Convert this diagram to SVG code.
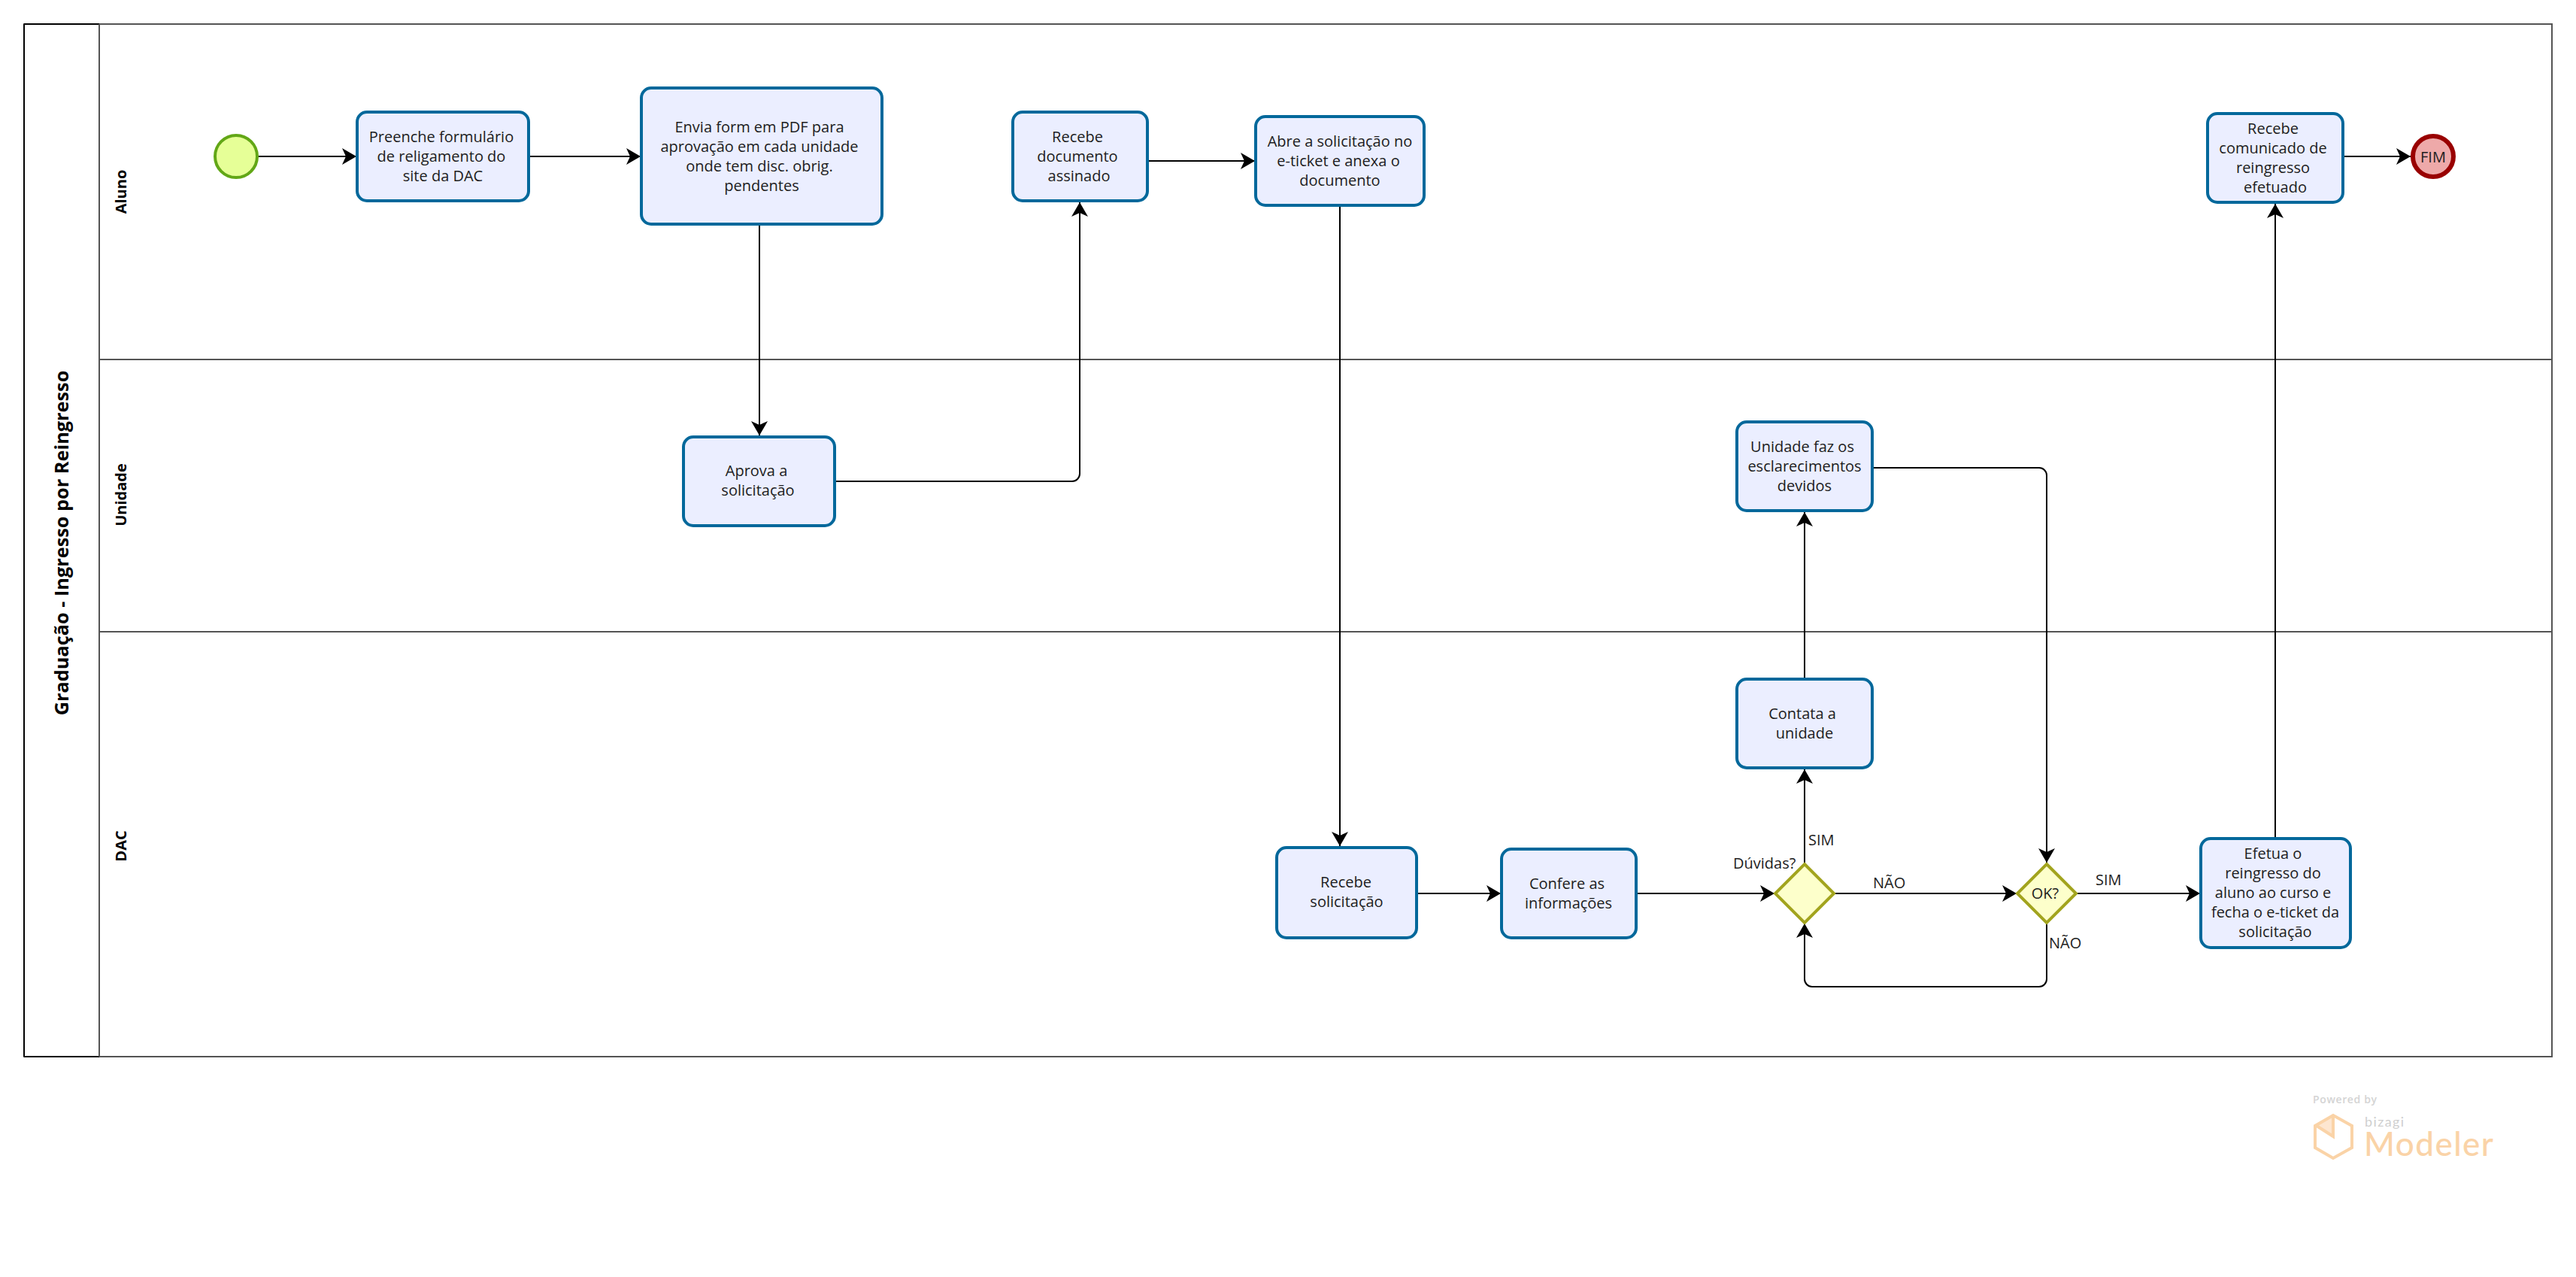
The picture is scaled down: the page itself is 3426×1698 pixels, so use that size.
<svg xmlns="http://www.w3.org/2000/svg" width="3426" height="1698" viewBox="0 0 3426 1698">
<style>
text{font-family:"Open Sans","Noto Sans","Liberation Sans",sans-serif;fill:#1d1d1d}
.t{font-size:20px;text-anchor:middle}
.l{font-size:20px}
.lane{fill:none;stroke:#545454;stroke-width:2}
.task{fill:#ebeeff;stroke:#03689b;stroke-width:4}
.gw{fill:#fdffcb;stroke:#a2a41e;stroke-width:4}
.c{fill:none;stroke:#000;stroke-width:2;marker-end:url(#a)}
.h{font-weight:700;fill:#000;text-anchor:middle}
</style>
<defs><marker id="a" markerUnits="userSpaceOnUse" markerWidth="19" markerHeight="22" viewBox="0 0 19 22" refX="19" refY="11" orient="auto"><path d="M0,0 L19,11 L0,22 L5,11 Z" fill="#000"/></marker></defs>
<rect width="3426" height="1698" fill="#fff"/>
<g id="pool">
<rect x="32" y="32" width="3362" height="1373" class="lane"/>
<path d="M32,32H132M32,32V1405M32,1405H132" fill="none" stroke="#000" stroke-width="2"/>
<path d="M132,32V1405M132,478H3394M132,840H3394" class="lane"/>
<text class="h" font-size="25.3" transform="translate(91,722) rotate(-90)">Graduação - Ingresso por Reingresso</text>
<text class="h" font-size="20" transform="translate(168,255) rotate(-90)">Aluno</text>
<text class="h" font-size="20" transform="translate(168,658) rotate(-90)">Unidade</text>
<text class="h" font-size="20" transform="translate(168,1125) rotate(-90)">DAC</text>
</g>
<g id="connectors">
<path class="c" d="M343,208H474"/>
<path class="c" d="M704,208H852"/>
<path class="c" d="M1010,300V579"/>
<path class="c" d="M1111,640H1426A10,10 0 0 0 1436,630V269"/>
<path class="c" d="M1527,214H1669"/>
<path class="c" d="M1782,275V1125"/>
<path class="c" d="M1885,1188H1996"/>
<path class="c" d="M2177,1188H2360"/>
<path class="c" d="M2400,1147V1023"/>
<path class="c" d="M2400,901V681"/>
<path class="c" d="M2491,622H2712A10,10 0 0 1 2722,632V1147"/>
<path class="c" d="M2440,1188H2682"/>
<path class="c" d="M2762,1188H2926"/>
<path class="c" d="M2722,1228V1302A10,10 0 0 1 2712,1312H2410A10,10 0 0 1 2400,1302V1228"/>
<path class="c" d="M3026,1113V271"/>
<path class="c" d="M3117,208H3206"/>
<text class="l" x="2405" y="1124">SIM</text>
<text class="l" x="2305" y="1155">Dúvidas?</text>
<text class="l" x="2491" y="1181">NÃO</text>
<text class="l" x="2787" y="1177">SIM</text>
<text class="l" x="2725" y="1261">NÃO</text>
</g>
<g id="start"><circle cx="314" cy="208" r="28" fill="#e6ff97" stroke="#62a716" stroke-width="4"/></g>
<g id="preenche"><rect class="task" x="475" y="149" width="228" height="118" rx="13"/><text class="t"><tspan x="587" y="189">Preenche formulário</tspan><tspan x="587" y="215">de religamento do</tspan><tspan x="589" y="241">site da DAC</tspan></text></g>
<g id="envia"><rect class="task" x="853" y="117" width="320" height="181" rx="13"/><text class="t"><tspan x="1010" y="176">Envia form em PDF para</tspan><tspan x="1010" y="202">aprovação em cada unidade</tspan><tspan x="1010" y="228">onde tem disc. obrig.</tspan><tspan x="1013" y="254">pendentes</tspan></text></g>
<g id="aprova"><rect class="task" x="909" y="581" width="201" height="118" rx="13"/><text class="t"><tspan x="1006" y="633">Aprova a</tspan><tspan x="1008" y="659">solicitação</tspan></text></g>
<g id="recebe-doc"><rect class="task" x="1347" y="149" width="179" height="118" rx="13"/><text class="t"><tspan x="1433" y="189">Recebe</tspan><tspan x="1433" y="215">documento</tspan><tspan x="1435" y="241">assinado</tspan></text></g>
<g id="abre"><rect class="task" x="1670" y="155" width="224" height="118" rx="13"/><text class="t"><tspan x="1782" y="195">Abre a solicitação no</tspan><tspan x="1780" y="221">e-ticket e anexa o</tspan><tspan x="1782" y="247">documento</tspan></text></g>
<g id="recebe-sol"><rect class="task" x="1698" y="1127" width="186" height="120" rx="13"/><text class="t"><tspan x="1790" y="1180">Recebe</tspan><tspan x="1791" y="1206">solicitação</tspan></text></g>
<g id="confere"><rect class="task" x="1997" y="1129" width="179" height="118" rx="13"/><text class="t"><tspan x="2084" y="1182">Confere as</tspan><tspan x="2086" y="1208">informações</tspan></text></g>
<g id="duvidas"><path class="gw" d="M2400,1149L2439,1188L2400,1227L2361,1188Z"/></g>
<g id="ok"><path class="gw" d="M2722,1149L2761,1188L2722,1227L2683,1188Z"/><text class="t" x="2720" y="1195">OK?</text></g>
<g id="contata"><rect class="task" x="2310" y="903" width="180" height="118" rx="13"/><text class="t"><tspan x="2397" y="956">Contata a</tspan><tspan x="2400" y="982">unidade</tspan></text></g>
<g id="unidade"><rect class="task" x="2310" y="561" width="180" height="118" rx="13"/><text class="t"><tspan x="2397" y="601">Unidade faz os</tspan><tspan x="2400" y="627">esclarecimentos</tspan><tspan x="2400" y="653">devidos</tspan></text></g>
<g id="efetua"><rect class="task" x="2927" y="1115" width="199" height="145" rx="13"/><text class="t"><tspan x="3023" y="1142">Efetua o</tspan><tspan x="3023" y="1168">reingresso do</tspan><tspan x="3023" y="1194">aluno ao curso e</tspan><tspan x="3026" y="1220">fecha o e-ticket da</tspan><tspan x="3026" y="1246">solicitação</tspan></text></g>
<g id="recebe-com"><rect class="task" x="2936" y="151" width="180" height="118" rx="13"/><text class="t"><tspan x="3023" y="178">Recebe</tspan><tspan x="3023" y="204">comunicado de</tspan><tspan x="3023" y="230">reingresso</tspan><tspan x="3026" y="256">efetuado</tspan></text></g>
<g id="fim"><circle cx="3236" cy="208" r="27" fill="#eea9a9" stroke="#990000" stroke-width="6"/><text class="t" x="3236" y="216">FIM</text></g>
<g id="logo">
<text x="3076" y="1467" font-size="14" font-weight="600" style="fill:#d4d4d4" textLength="85">Powered by</text>
<path d="M3103,1483L3103,1511L3082,1497Z" fill="#fde6d0"/>
<path d="M3103,1483L3128,1497V1526L3103,1540L3079,1526V1497ZM3103,1483V1511L3081,1497" fill="none" stroke="#fad3a7" stroke-width="4"/>
<text x="3145" y="1498" font-size="18" style="font-family:Lato,sans-serif;fill:#cfcfcf" textLength="52">bizagi</text>
<text x="3144" y="1537" font-size="44" font-weight="500" style="font-family:Lato,sans-serif;fill:#fad3a7" textLength="172">Modeler</text>
</g>
</svg>
